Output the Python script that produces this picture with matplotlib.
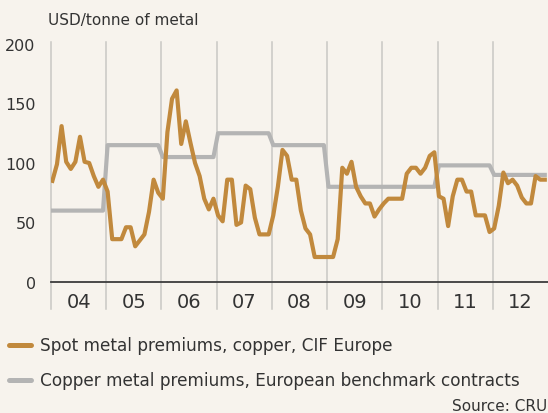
import matplotlib
matplotlib.use("Agg")
import matplotlib.pyplot as plt
from matplotlib.lines import Line2D
import numpy as np

# ---- data (monthly, Jan 2004 .. Dec 2012) ----
years = ["04", "05", "06", "07", "08", "09", "10", "11", "12"]
spot_premium = [
    85, 99, 131, 101, 95, 101, 122, 101, 100, 89, 80, 86,      # 2004
    76, 36, 36, 36, 46, 46, 30, 35, 40, 59, 86, 75,            # 2005
    70, 126, 154, 161, 116, 135, 117, 100, 89, 70, 61, 70,     # 2006
    56, 51, 86, 86, 48, 50, 81, 78, 54, 40, 40, 40,            # 2007
    56, 80, 111, 106, 86, 86, 60, 45, 40, 21, 21, 21,          # 2008
    21, 21, 36, 96, 91, 101, 80, 72, 66, 66, 55, 61,           # 2009
    66, 70, 70, 70, 70, 91, 96, 96, 91, 96, 106, 109,          # 2010
    72, 70, 47, 72, 86, 86, 76, 76, 56, 56, 56, 42,            # 2011
    45, 64, 92, 83, 86, 81, 71, 66, 66, 89, 86, 86,            # 2012
]
benchmark_annual = [60, 115, 105, 125, 115, 80, 80, 98, 90]
yticks = [0, 50, 100, 150, 200]

spot_label = "Spot metal premiums, copper, CIF Europe"
bench_label = "Copper metal premiums, European benchmark contracts"

benchmark = np.repeat(benchmark_annual, 12)
months = np.arange(len(spot_premium)) + 0.3

# ---- style ----
BG = "#f7f3ed"
ORANGE = "#c1893d"
GREY = "#b4b4b4"
GRID = "#c9c7c4"
TEXT = "#333333"
plt.rcParams["font.family"] = ["DejaVu Sans"]

W, H = 548, 414
fig = plt.figure(figsize=(W / 100, H / 100), dpi=100, facecolor=BG)
ax = fig.add_axes([51 / W, 1 - 283 / H, (548 - 51) / W, (283 - 45) / H])
ax.set_facecolor(BG)

ax.set_xlim(0, 108)
ax.set_ylim(0, 200)

# vertical year separators (extend below the axis into the label band)
for k in range(len(years)):
    ax.axvline(k * 12, ymin=-0.115, ymax=1.008, color=GRID, lw=1.1,
               clip_on=False, zorder=1)

ax.plot(months, benchmark, color=GREY, lw=3.0, zorder=3,
        solid_joinstyle="round")
ax.plot(months, spot_premium, color=ORANGE, lw=3.0, zorder=4,
        solid_joinstyle="round")

ax.axhline(0, color="#3c3c3c", lw=1.3, zorder=5, clip_on=False)

for s in ax.spines.values():
    s.set_visible(False)

ax.set_yticks(yticks)
ax.set_yticklabels([str(v) for v in yticks], fontsize=11.5, color=TEXT)
ax.tick_params(axis="y", length=0, pad=11)

ax.set_xticks([k * 12 + 6 for k in range(len(years))])
ax.set_xticklabels(years, fontsize=14, color=TEXT)
ax.tick_params(axis="x", length=0, pad=7)

fig.text(48 / W, 1 - 20 / H, "USD/tonne of metal", fontsize=11, color=TEXT,
         ha="left", va="center")

# legend
for yy, col, lab in [(346, ORANGE, spot_label), (381, GREY, bench_label)]:
    fig.add_artist(Line2D([9 / W, 31 / W], [1 - yy / H, 1 - yy / H],
                          transform=fig.transFigure, color=col, lw=3.6,
                          solid_capstyle="round"))
    fig.text(40 / W, 1 - yy / H, lab, fontsize=12.2, color=TEXT,
             ha="left", va="center")

fig.text(547 / W, 1 - 407 / H, "Source: CRU", fontsize=11, color=TEXT,
         ha="right", va="center")

fig.savefig("out.png", dpi=100, facecolor=BG)
